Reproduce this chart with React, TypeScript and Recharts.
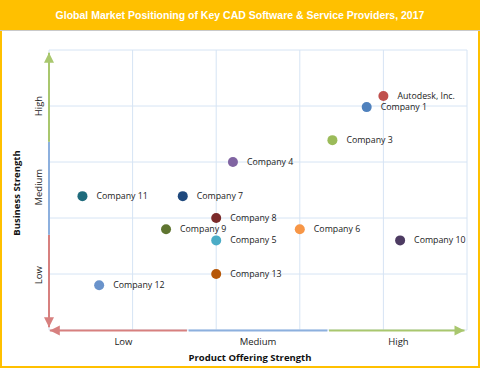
import { ScatterChart, Scatter, XAxis, YAxis, ReferenceLine } from 'recharts';

const companies = [
  'Autodesk, Inc.',
  'Company 1',
  'Company 3',
  'Company 4',
  'Company 11',
  'Company 7',
  'Company 8',
  'Company 9',
  'Company 5',
  'Company 6',
  'Company 10',
  'Company 13',
  'Company 12',
];
const productStrength = [4.0, 3.8, 3.39, 2.2, 0.4, 1.6, 2.0, 1.4, 2.0, 3.0, 4.2, 2.0, 0.6];
const businessStrength = [4.18, 3.98, 3.39, 3.0, 2.39, 2.39, 2.0, 1.8, 1.6, 1.8, 1.6, 1.0, 0.8];
const dotColors = [
  '#C0504D', '#4F81BD', '#9BBB59', '#8064A2', '#1F6B7C', '#1F497D', '#7B2A2A',
  '#5F7530', '#4BACC6', '#F79646', '#4D3B62', '#B65708', '#6A93CB',
];

const gridTicks = [0, 1, 2, 3, 4, 5];
const levelNames = ['Low', 'Medium', 'High'];
const xLevelPos = [0.89, 2.5, 4.18];
const yLevelPos = [0.98, 2.55, 4.0];
// band breaks for the coloured axis arrows
const xBands = [0, 1.66, 3.34, 4.98];
const yBands = [0.05, 1.7, 3.36, 4.95];
const bandColors = ['#D7807F', '#8DB0DE', '#A9C76E'];

const data = companies.map((name, i) => ({
  name,
  x: productStrength[i],
  y: businessStrength[i],
  color: dotColors[i],
}));

const font = '"Open Sans", "DejaVu Sans", sans-serif';
const gridColor = '#D6E4F4';

function Dot(props: any) {
  const { cx, cy, payload } = props;
  return (
    <g>
      <circle cx={cx} cy={cy} r={5} fill={payload.color} />
      <text x={cx + 14} y={cy + 3} fontSize={8.8} fill="#222" fontFamily={font}>
        {payload.name}
      </text>
    </g>
  );
}

function arrowShape(color: string, head: 'none' | 'up' | 'down' | 'left' | 'right', atStart: boolean) {
  return (props: any) => {
    const { x1, y1, x2, y2 } = props;
    const tx = atStart ? x1 : x2;
    const ty = atStart ? y1 : y2;
    let pts = '';
    if (head === 'up') pts = `${tx},${ty} ${tx - 5},${ty + 10} ${tx + 5},${ty + 10}`;
    if (head === 'down') pts = `${tx},${ty} ${tx - 5},${ty - 10} ${tx + 5},${ty - 10}`;
    if (head === 'left') pts = `${tx},${ty} ${tx + 10},${ty - 5} ${tx + 10},${ty + 5}`;
    if (head === 'right') pts = `${tx},${ty} ${tx - 10},${ty - 5} ${tx - 10},${ty + 5}`;
    return (
      <g>
        <line x1={x1} y1={y1} x2={x2} y2={y2} stroke={color} strokeWidth={2} />
        {head !== 'none' && <polygon points={pts} fill={color} />}
      </g>
    );
  };
}

function XLevelTick(props: any) {
  const { x, y, payload } = props;
  const idx = xLevelPos.indexOf(payload.value);
  return (
    <text x={x} y={y + 7} textAnchor="middle" fontSize={9.5} fill="#222" fontFamily={font}>
      {levelNames[idx]}
    </text>
  );
}

function YLevelTick(props: any) {
  const { x, y, payload } = props;
  const idx = yLevelPos.indexOf(payload.value);
  return (
    <text
      x={x + 1}
      y={y}
      transform={`rotate(-90, ${x + 1}, ${y})`}
      textAnchor="middle"
      fontSize={9.5}
      fill="#222"
      fontFamily={font}
    >
      {levelNames[idx]}
    </text>
  );
}

export default function App() {
  return (
    <div
      style={{
        position: 'absolute',
        left: 0,
        top: 0,
        width: 480,
        height: 368,
        background: '#fff',
        fontFamily: font,
      }}
    >
      <div
        style={{
          position: 'absolute',
          left: 0,
          top: 0,
          width: 476,
          height: 364,
          border: '2px solid #FFC000',
        }}
      />
      <div
        style={{
          position: 'absolute',
          left: 0,
          top: 0,
          width: 480,
          height: 30,
          background: '#FFC000',
          borderBottom: '1px solid #C9C9C9',
          color: '#fff',
          fontFamily: '"Liberation Sans", Arial, sans-serif',
          fontWeight: 'bold',
          fontSize: 10.5,
          lineHeight: '30px',
          textAlign: 'center',
        }}
      >
        Global Market Positioning of Key CAD Software &amp; Service Providers, 2017
      </div>
      <div
        style={{
          position: 'absolute',
          left: 0,
          top: 351,
          width: 500,
          textAlign: 'center',
          fontWeight: 'bold',
          fontSize: 9.5,
          color: '#111',
        }}
      >
        Product Offering Strength
      </div>
      <div
        style={{
          position: 'absolute',
          left: 16,
          top: 193,
          transform: 'translate(-50%, -50%) rotate(-90deg)',
          whiteSpace: 'nowrap',
          fontWeight: 'bold',
          fontSize: 9.5,
          color: '#111',
        }}
      >
        Business Strength
      </div>
      <div style={{ position: 'absolute', left: 0, top: 0 }}>
        <ScatterChart width={480} height={368} margin={{ top: 50, right: 13, bottom: 0, left: 0 }}>
          <XAxis
            type="number"
            dataKey="x"
            domain={[0, 5]}
            allowDataOverflow
            ticks={xLevelPos}
            interval={0}
            height={38}
            tick={<XLevelTick />}
            axisLine={false}
            tickLine={false}
          />
          <YAxis
            type="number"
            dataKey="y"
            domain={[0, 5]}
            allowDataOverflow
            ticks={yLevelPos}
            interval={0}
            width={49}
            tick={<YLevelTick />}
            axisLine={false}
            tickLine={false}
          />
          {gridTicks.map((t) => (
            <ReferenceLine key={`gx${t}`} x={t} stroke={gridColor} strokeWidth={1} ifOverflow="visible" />
          ))}
          {gridTicks.map((t) => (
            <ReferenceLine key={`gy${t}`} y={t} stroke={gridColor} strokeWidth={1} ifOverflow="visible" />
          ))}
          {bandColors.map((c, i) => (
            <ReferenceLine
              key={`v${i}`}
              segment={[
                { x: 0, y: yBands[i] },
                { x: 0, y: yBands[i + 1] },
              ]}
              ifOverflow="visible"
              shape={arrowShape(c, i === 0 ? 'down' : i === 2 ? 'up' : 'none', i === 0)}
            />
          ))}
          {bandColors.map((c, i) => (
            <ReferenceLine
              key={`h${i}`}
              segment={[
                { x: xBands[i] + 0.01, y: -0.01 },
                { x: xBands[i + 1] - 0.01, y: -0.01 },
              ]}
              ifOverflow="visible"
              shape={arrowShape(c, i === 0 ? 'left' : i === 2 ? 'right' : 'none', i === 0)}
            />
          ))}
          <Scatter data={data} shape={<Dot />} isAnimationActive={false} />
        </ScatterChart>
      </div>
    </div>
  );
}
